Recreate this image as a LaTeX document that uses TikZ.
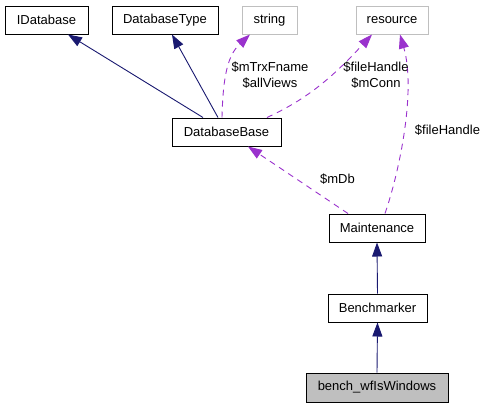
\documentclass[tikz,border=0pt]{standalone}
\usepackage{fontspec}
\setmainfont{Liberation Sans}
\usetikzlibrary{arrows.meta,calc}
\definecolor{navy}{HTML}{191970}
\definecolor{purp}{HTML}{9A32CD}
\definecolor{lgray}{HTML}{BFBFBF}
\begin{document}
\begin{tikzpicture}[x=1pt,y=-1pt,
  box/.style={draw=black, line width=1pt, minimum height=28pt, inner sep=0pt,
    font=\fontsize{13}{15}\selectfont, anchor=center},
  gbox/.style={box, draw=lgray},
  lbl/.style={font=\fontsize{13}{16}\selectfont, align=center, inner sep=0pt},
  inh/.style={draw=navy, line width=0.9pt, -{Triangle[length=14pt,width=10pt,fill=navy]}},
  use/.style={draw=purp, line width=0.9pt, dash pattern=on 6pt off 5pt,
    -{Triangle[length=14pt,width=10pt,fill=purp]}}]
\useasboundingbox (0,0) rectangle (485,408);
\node[box, minimum width=83pt] (idb) at (46.5,20) {IDatabase};
\node[box, minimum width=106pt] (dbt) at (165,20) {DatabaseType};
\node[gbox, minimum width=55pt] (str) at (269.5,20) {string};
\node[gbox, minimum width=72pt] (res) at (392,20) {resource};
\node[box, minimum width=109pt] (dbb) at (226.5,132) {DatabaseBase};
\node[box, minimum width=96pt] (mnt) at (377,228) {Maintenance};
\node[box, minimum width=99pt] (bm) at (377.5,308) {Benchmarker};
\node[box, minimum width=142pt, minimum height=29pt, fill=lgray] (bw) at (377,387.5) {bench\_wfIsWindows};

\draw[inh] ($(dbb.north)+(-23.5,0)$) -- ($(idb.south)+(21.5,0)$);
\draw[inh] ($(dbb.north)+(-8.5,0)$) -- ($(dbt.south)+(7,0)$);
\draw[use] ($(dbb.north)+(-4.5,0)$) .. controls (223,75) and (228,55) .. ($(str.south)+(-19.5,0)$);
\draw[use] ($(dbb.north)+(40.5,0)$) .. controls (305,100) and (330,80) .. ($(res.south)+(-20,0)$);
\draw[use] ($(mnt.north)+(8,0)$) .. controls (400,170) and (416,90) .. ($(res.south)+(8,0)$);
\draw[use] ($(mnt.north)+(-29,0)$) -- ($(dbb.south)+(21.5,0)$);
\draw[inh] (bm.north) -- (mnt.south);
\draw[inh] (bw.north) -- (bm.south);

\node[lbl] (l1) at (270,75) {\$mTrxFname\\\$allViews};
\node[lbl] (l2) at (376,75) {\$fileHandle\\\$mConn};
\node[lbl] (l3) at (447.5,130) {\$fileHandle};
\node[lbl] (l4) at (337.5,179) {\$mDb};
\end{tikzpicture}
\end{document}
